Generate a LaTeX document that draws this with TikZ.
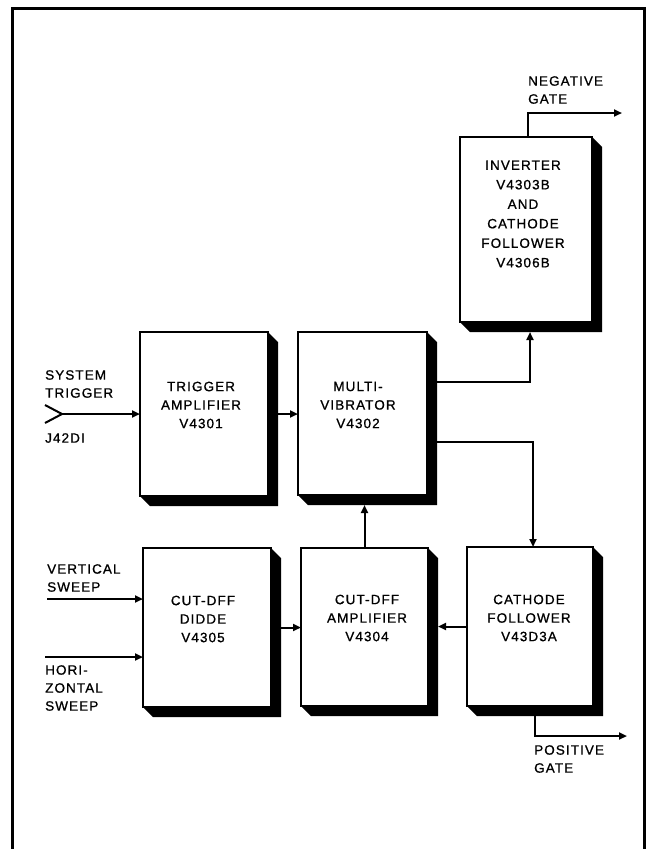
\documentclass[tikz,border=0pt]{standalone}
\usepackage{fontspec}
\setmainfont[LetterSpace=8,FakeBold=0.9]{Liberation Sans}
\usetikzlibrary{arrows.meta}
\begin{document}
\begin{tikzpicture}[x=1pt,y=-1pt,
  blk/.style={draw,line width=2pt,inner sep=0pt,outer sep=0pt,fill=white},
  lbl/.style={align=center,inner sep=0pt,font=\fontsize{13.5}{18.5}\selectfont},
  lbll/.style={align=left,inner sep=0pt,anchor=west,font=\fontsize{13.5}{18}\selectfont},
  arr/.style={line width=2pt,-{Triangle[length=8pt,width=7pt]}},
  ln/.style={line width=2pt}]
\useasboundingbox (0,0) rectangle (647,849);
% frame
\draw[line width=3pt] (12,849) -- (12,8) -- (644,8) -- (644,849);
% shadow macro via pic
\tikzset{shadowbox/.pic={\fill (0,0) -- (10,10) -- (10,\tikzh+10) -- (-\tikzw+10,\tikzh+10) -- (-\tikzw,\tikzh) -- (0,\tikzh) -- cycle;}}
% boxes
\def\tikzw{128}\def\tikzh{164}\pic at (268,332) {shadowbox};
\node[blk,minimum width=128pt,minimum height=164pt] (ta) at (204,414) {};
\def\tikzw{129}\def\tikzh{163}\pic at (427,332) {shadowbox};
\node[blk,minimum width=129pt,minimum height=163pt] (mv) at (362.5,413.5) {};
\def\tikzw{132}\def\tikzh{185}\pic at (592,137) {shadowbox};
\node[blk,minimum width=132pt,minimum height=185pt] (inv) at (526,229.5) {};
\def\tikzw{128}\def\tikzh{159}\pic at (271,548) {shadowbox};
\node[blk,minimum width=128pt,minimum height=159pt] (cod) at (207,627.5) {};
\def\tikzw{127}\def\tikzh{158}\pic at (428,548) {shadowbox};
\node[blk,minimum width=127pt,minimum height=158pt] (coa) at (364.5,627) {};
\def\tikzw{126}\def\tikzh{159}\pic at (593,547) {shadowbox};
\node[blk,minimum width=126pt,minimum height=159pt] (cf) at (530,626.5) {};
% box texts
\node[lbl] (tat) at (201,405) {TRIGGER\\AMPLIFIER\\V4301};
\node[lbl] (mvt) at (358,405) {MULTI-\\VIBRATOR\\V4302};
\node[lbl,font=\fontsize{13.5}{19.5}\selectfont] (invt) at (523,214) {INVERTER\\V4303B\\AND\\CATHODE\\FOLLOWER\\V4306B};
\node[lbl] (codt) at (203,619) {CUT-DFF\\DIDDE\\V4305};
\node[lbl] (coat) at (367,618) {CUT-DFF\\AMPLIFIER\\V4304};
\node[lbl] (cft) at (529,618) {CATHODE\\FOLLOWER\\V43D3A};
% side labels
\node[lbll] (stl) at (45,384) {SYSTEM\\TRIGGER};
\node[lbll] (jl) at (45,438) {J42DI};
\node[lbll] (vsl) at (47,578) {VERTICAL\\SWEEP};
\node[lbll] (hsl) at (45,688) {HORI-\\ZONTAL\\SWEEP};
\node[lbll] (ngl) at (528,90) {NEGATIVE\\GATE};
\node[lbll] (pgl) at (534,759) {POSITIVE\\GATE};
% coordinates
\coordinate (st) at (62,414);
\coordinate (vs) at (47,599);
\coordinate (hs) at (45,657);
\coordinate (ng) at (622,113);
\coordinate (pg) at (627,736);
% connectors
\draw[ln] (45,405) -- (st) -- (45,423);
\draw[arr] (st) -- (ta.west);
\draw[arr] (vs) -- (vs -| cod.west);
\draw[arr] (hs) -- (hs -| cod.west);
\draw[arr] ([xshift=10pt]ta.east) -- (ta.east -| mv.west);
\draw[arr] ([xshift=10pt]cod.east) -- (cod.east -| coa.west);
\draw[arr] (cf.west) -- ([xshift=10pt]cf.west -| coa.east);
\draw[arr] (coa.north) -- ([yshift=-10pt]coa.north |- mv.south);
\draw[arr] ([xshift=10pt,yshift=32pt]mv.east) -| ([xshift=4pt,yshift=-10pt]inv.south);
\draw[arr] ([xshift=10pt,yshift=-28pt]mv.east) -| ([xshift=3pt]cf.north);
\draw[arr] ([xshift=2pt]inv.north) |- (ng);
\draw[arr] ([xshift=5pt,yshift=-10pt]cf.south) |- (pg);
\end{tikzpicture}
\end{document}
